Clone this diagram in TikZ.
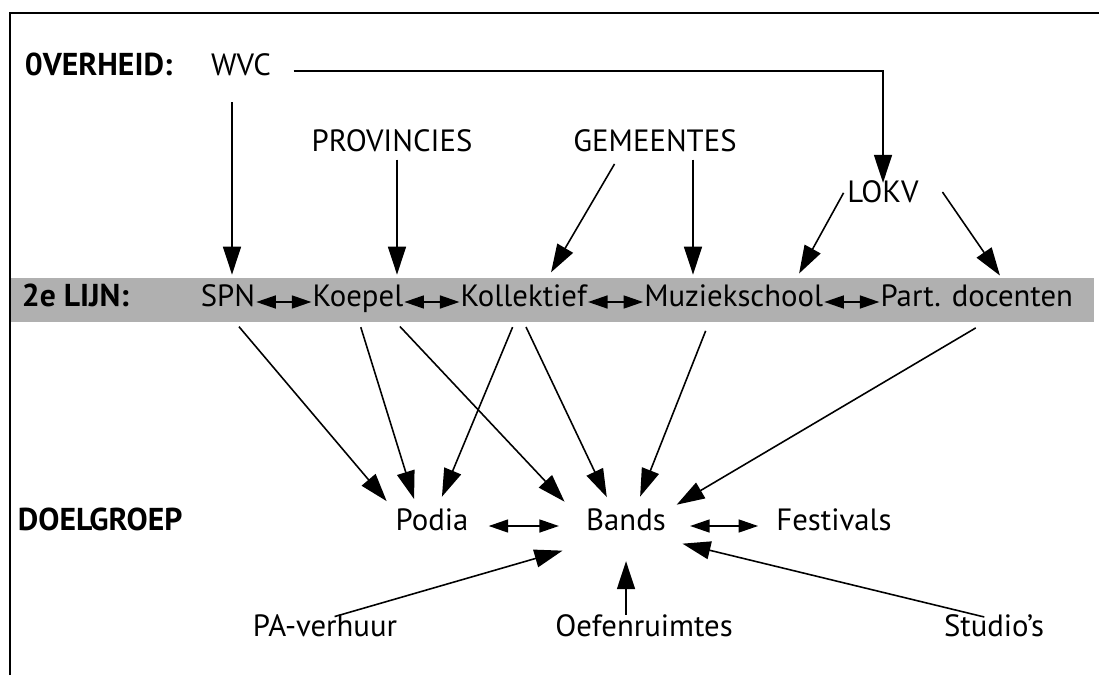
\documentclass[tikz,border=0pt]{standalone}
\usepackage{fontspec}
\setmainfont{PT Sans}
\usetikzlibrary{arrows.meta,positioning}
\definecolor{lijngrijs}{RGB}{176,176,176}

\begin{document}
\begin{tikzpicture}[
    font=\fontsize{17.5}{21}\selectfont,
    node distance=1.1cm,
    txt/.style={inner sep=2pt, text height=0.75em, text depth=0.25em},
    kop/.style={txt, anchor=west, font=\fontsize{18}{21}\selectfont\bfseries},
    item/.style={txt, inner xsep=0.5pt, minimum height=0.88cm},
    pijl/.style={line width=0.9pt, -{Triangle[length=5.6mm,width=3.6mm]}},
    dubbel/.style={line width=0.9pt, {Triangle[length=3.9mm,width=2.6mm]}-{Triangle[length=3.9mm,width=2.6mm]}},
  ]
  \useasboundingbox (0,0) rectangle (21.98,13.5);
  % kader en grijze balk
  \draw[line width=0.9pt] (0.2,0) |- (21.98,13.24);
  \fill[lijngrijs] (0.22,7.06) rectangle (21.88,7.94);

  % overheid
  \node[kop] (overheid) at (0.42,12.08) {0VERHEID:};
  \node[txt] (wvc) at (4.82,12.08) {WVC};
  \node[txt] (prov) at (7.84,10.56) {PROVINCIES};
  \node[txt] (gem) at (13.1,10.56) {GEMEENTES};
  \node[txt] (lokv) at (17.66,9.54) {LOKV};

  % 2e lijn
  \node[kop] (lijn) at (0.36,7.46) {2e LIJN:};
  \node[item] (spn) at (4.56,7.46) {SPN};
  \node[item, right=of spn] (koepel) {Koepel};
  \node[item, right=of koepel] (koll) {Kollektief};
  \node[item, right=of koll] (muziek) {Muziekschool};
  \node[item, right=of muziek] (part) {Part. docenten};

  % doelgroep
  \node[kop] (doel) at (0.28,2.98) {DOELGROEP};
  \node[txt] (podia) at (8.64,2.98) {Podia};
  \node[txt] (bands) at (12.52,2.98) {Bands};
  \node[txt] (fest) at (16.68,2.98) {Festivals};
  \node[txt] (pa) at (6.5,0.86) {PA-verhuur};
  \node[txt] (oefen) at (12.88,0.86) {Oefenruimtes};
  \node[txt] (studio) at (19.88,0.86) {Studio's};

  % pijlen naar de 2e lijn
  \draw[pijl, shorten <=3.8mm, shorten >=0.5mm] (wvc) -| (lokv);
  \draw[pijl, shorten <=3.7mm, shorten >=1mm] ([xshift=0.8mm]spn.north |- wvc.south) -- ([xshift=0.8mm]spn.north);
  \draw[pijl, shorten >=1mm] ([xshift=1mm]prov.south) -- ([xshift=1mm]prov.south |- koepel.north);
  \draw[pijl, shorten <=1mm, shorten >=1.7mm] ([xshift=9.5mm]gem.south west) -- ([xshift=4.6mm]koll.north);
  \draw[pijl, shorten >=1mm] ([xshift=7.6mm]gem.south) -- ([xshift=7.6mm]gem.south |- muziek.north);
  \draw[pijl, shorten >=1.4mm] ([yshift=-1.5mm]lokv.north west) -- ([xshift=12.4mm]muziek.north);
  \draw[pijl, shorten >=1mm] ([shift={(4mm,1.2mm)}]lokv.east) -- ([xshift=5.2mm]part.north);

  % binnen de 2e lijn
  \draw[dubbel] (spn) -- (koepel);
  \draw[dubbel] (koepel) -- (koll);
  \draw[dubbel] (koll) -- (muziek);
  \draw[dubbel] (muziek) -- (part);

  % pijlen naar de doelgroep
  \draw[pijl, shorten <=0.6mm, shorten >=3.2mm] ([xshift=1.8mm]spn.south) -- ([xshift=-7mm]podia.north);
  \draw[pijl, shorten <=0.6mm, shorten >=3mm] ([xshift=0.4mm]koepel.south) -- ([xshift=-2.7mm]podia.north);
  \draw[pijl, shorten <=0.6mm, shorten >=3.2mm] ([xshift=8mm]koepel.south) -- ([xshift=-10.1mm]bands.north);
  \draw[pijl, shorten <=0.6mm, shorten >=3.6mm] ([xshift=-2mm]koll.south) -- ([xshift=0.6mm]podia.north);
  \draw[pijl, shorten <=0.6mm, shorten >=3.6mm] ([xshift=0.2mm]koll.south) -- ([xshift=-2.3mm]bands.north);
  \draw[pijl, shorten <=1.4mm, shorten >=3.6mm] ([xshift=-5.1mm]muziek.south) -- ([xshift=1.5mm]bands.north);
  \draw[pijl, shorten <=1.4mm, shorten >=3.4mm] ([xshift=1mm]part.south) -- ([xshift=7.2mm]bands.north);

  % doelgroep onderling
  \draw[dubbel, shorten <=3.3mm, shorten >=4.7mm] (podia) -- (bands);
  \draw[dubbel, shorten <=4.1mm, shorten >=2.9mm] (bands) -- (fest);
  \draw[pijl, shorten <=2mm] (pa.north) -- ([shift={(-12.7mm,-2.4mm)}]bands.south);
  \draw[pijl, shorten <=0.9mm, shorten >=4.5mm] (bands.south |- oefen.north) -- (bands.south);
  \draw[pijl, shorten <=2mm] (studio.north) -- ([shift={(11.3mm,-1mm)}]bands.south);
\end{tikzpicture}
\end{document}
